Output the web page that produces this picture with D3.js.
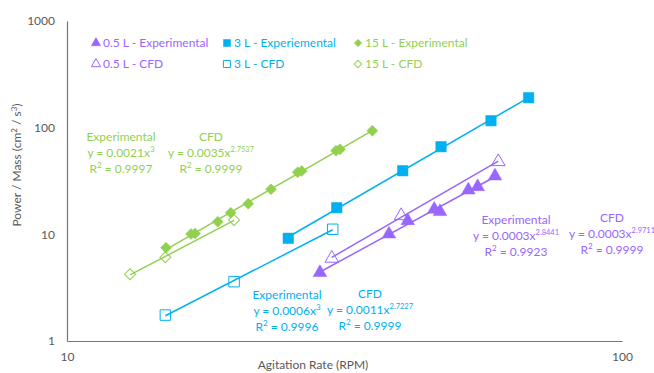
<!DOCTYPE html>
<html>
<head>
<meta charset="utf-8">
<script src="https://cdn.jsdelivr.net/npm/d3@7"></script>
<style>
  html, body { margin: 0; padding: 0; background: #fff; }
  svg { display: block; font-family: Lato, "Open Sans", sans-serif; }
</style>
</head>
<body>
<svg id="chart" width="654" height="373"></svg>
<script>
// Agitation rate (RPM) and power per mass (cm²/s³) for each vessel size
const rpm15Exp = [15.08, 16.73, 17.01, 18.69, 19.72, 21.21, 23.31, 26.04, 26.48, 30.53, 31.04, 35.49];
const pm15Exp  = [7.49, 10.07, 10.2, 13.13, 15.95, 19.38, 26.43, 38.15, 39.24, 60.8, 62.7, 93.6];
const rpm15Cfd = [12.99, 15.04, 20.0];
const pm15Cfd  = [4.22, 6.09, 13.6];

const rpm3Exp = [25.04, 30.62, 40.26, 47.2, 58.07, 67.88];
const pm3Exp  = [9.18, 17.77, 39.5, 66.3, 116.2, 191];
const rpm3Cfd = [15.04, 20.0, 30.11];
const pm3Cfd  = [1.75, 3.6, 11.15];

const rpm05Exp = [28.56, 38.03, 41.11, 45.89, 47.0, 52.86, 54.95, 59.04];
const pm05Exp  = [4.37, 10.07, 13.42, 17.17, 16.3, 26.0, 27.96, 35.2];
const rpm05Cfd = [30.0, 40.0, 59.85];
const pm05Cfd  = [5.96, 14.95, 47.97];

const xTicks = [10, 100];
const yTicks = [1, 10, 100, 1000];

const legendLabels = ["0.5 L - Experimental", "3 L - Experiemental", "15 L - Experimental",
                      "0.5 L - CFD", "3 L - CFD", "15 L - CFD"];

// Fitted power-law labels: [heading, coefficient, exponent, R²]
const fit15Exp = ["Experimental", "0.0021", "3", "0.9997"];
const fit15Cfd = ["CFD", "0.0035", "2.7537", "0.9999"];
const fit3Exp  = ["Experimental", "0.0006", "3", "0.9996"];
const fit3Cfd  = ["CFD", "0.0011", "2.7227", "0.9999"];
const fit05Exp = ["Experimental", "0.0003", "2.8441", "0.9923"];
const fit05Cfd = ["CFD", "0.0003", "2.9711", "0.9999"];

const purple = "#9966FF", blue = "#00B0F0", green = "#92D050";

const svg = d3.select("#chart");
const x = d3.scaleLog().domain([10, 100]).range([67, 622]);
const y = d3.scaleLog().domain([1, 1000]).range([341, 21]);

// axes
const xAxis = svg.append("g").attr("transform", "translate(0,341)")
  .call(d3.axisBottom(x).tickValues(xTicks).tickSize(0).tickPadding(11).tickFormat(d3.format("d")));
const yAxis = svg.append("g").attr("transform", "translate(67,0)")
  .call(d3.axisLeft(y).tickValues(yTicks).tickSize(0).tickPadding(12).tickFormat(d3.format("d")));
[xAxis, yAxis].forEach(g => {
  g.select(".domain").attr("stroke", "#767676").attr("stroke-width", 1.2);
  g.selectAll("text").attr("fill", "#595959").attr("font-size", 12).attr("font-family", "Lato, sans-serif");
});

// axis titles
svg.append("text").attr("x", 313).attr("y", 369).attr("text-anchor", "middle")
  .attr("fill", "#595959").attr("font-size", 12).text("Agitation Rate (RPM)");
const yt = svg.append("text").attr("transform", "translate(21,165) rotate(-90)")
  .attr("text-anchor", "middle").attr("fill", "#595959").attr("font-size", 12);
yt.append("tspan").text("Power / Mass (cm");
yt.append("tspan").attr("font-size", 8).attr("dy", -4).text("2");
yt.append("tspan").attr("dy", 4).text(" / s");
yt.append("tspan").attr("font-size", 8).attr("dy", -4).text("3");
yt.append("tspan").attr("dy", 4).text(")");

// least-squares power-law fit in log-log space, drawn across the data range
function powerFit(xs, ys) {
  const lx = xs.map(Math.log), ly = ys.map(Math.log);
  const mx = d3.mean(lx), my = d3.mean(ly);
  const b = d3.sum(lx, (v, i) => (v - mx) * (ly[i] - my)) / d3.sum(lx, v => (v - mx) ** 2);
  const a = Math.exp(my - b * mx);
  const [x0, x1] = d3.extent(xs);
  return [[x0, a * x0 ** b], [x1, a * x1 ** b]];
}

const series = [
  { xs: rpm15Cfd, ys: pm15Cfd, color: green, shape: "diamond", filled: false },
  { xs: rpm15Exp, ys: pm15Exp, color: green, shape: "diamond", filled: true },
  { xs: rpm3Cfd,  ys: pm3Cfd,  color: blue,   shape: "square",  filled: false },
  { xs: rpm3Exp,  ys: pm3Exp,  color: blue,   shape: "square",  filled: true },
  { xs: rpm05Cfd, ys: pm05Cfd, color: purple, shape: "triangle", filled: false },
  { xs: rpm05Exp, ys: pm05Exp, color: purple, shape: "triangle", filled: true }
];

const line = d3.line().x(d => x(d[0])).y(d => y(d[1]));
series.forEach(s => {
  svg.append("path").datum(powerFit(s.xs, s.ys)).attr("d", line)
    .attr("fill", "none").attr("stroke", s.color).attr("stroke-width", 1.5);
});

function symbolPath(shape, size) {
  if (shape === "triangle") return d3.symbol(d3.symbolTriangle, size)();
  return d3.symbol(d3.symbolSquare, size)();
}
function drawMarker(g, shape, filled, color, size) {
  const p = g.append("path").attr("d", symbolPath(shape, size))
    .attr("fill", filled ? color : "none")
    .attr("stroke", color).attr("stroke-width", filled ? 0.5 : 1);
  if (shape === "diamond") p.attr("transform", "rotate(45)");
  return p;
}

series.forEach(s => {
  const size = s.shape === "square" ? 110 : s.shape === "diamond" ? 60 : 80;
  s.xs.forEach((v, i) => {
    const g = svg.append("g").attr("transform", `translate(${x(v)},${y(s.ys[i])})`);
    drawMarker(g, s.shape, s.filled, s.color, size);
  });
});

// legend
const legendItems = [
  { shape: "triangle", filled: true,  color: purple, x: 96,  y: 43 },
  { shape: "square",   filled: true,  color: blue,   x: 227, y: 43 },
  { shape: "diamond",  filled: true,  color: green,  x: 358, y: 43 },
  { shape: "triangle", filled: false, color: purple, x: 96,  y: 64 },
  { shape: "square",   filled: false, color: blue,   x: 227, y: 64 },
  { shape: "diamond",  filled: false, color: green,  x: 358, y: 64 }
];
legendItems.forEach((it, i) => {
  const g = svg.append("g").attr("transform", `translate(${it.x},${it.y})`);
  drawMarker(g, it.shape, it.filled, it.color, it.shape === "square" ? 50 : it.shape === "diamond" ? 28 : 38);
  svg.append("text").attr("x", it.x + 7).attr("y", it.y).attr("dy", "0.35em")
    .attr("fill", it.color).attr("font-size", 12).text(legendLabels[i]);
});

// fit equation labels
function fitLabel(fit, cx, cy, color) {
  const g = svg.append("g").attr("fill", color).attr("font-size", 12).attr("text-anchor", "middle");
  g.append("text").attr("x", cx).attr("y", cy).attr("dy", "0.35em").text(fit[0]);
  const eq = g.append("text").attr("x", cx).attr("y", cy + 16).attr("dy", "0.35em");
  eq.append("tspan").text(`y = ${fit[1]}x`);
  eq.append("tspan").attr("font-size", fit[2].length > 1 ? 7.5 : 8).attr("dy", -5).text(fit[2]);
  const r = g.append("text").attr("x", cx).attr("y", cy + 32).attr("dy", "0.35em");
  r.append("tspan").text("R");
  r.append("tspan").attr("font-size", 8).attr("dy", -5).text("2");
  r.append("tspan").attr("dy", 5).text(` = ${fit[3]}`);
}
fitLabel(fit15Exp, 121, 137, green);
fitLabel(fit15Cfd, 211, 137, green);
fitLabel(fit3Exp, 287, 295, blue);
fitLabel(fit3Cfd, 370, 294, blue);
fitLabel(fit05Exp, 516, 220, purple);
fitLabel(fit05Cfd, 612, 218, purple);
</script>
</body>
</html>
